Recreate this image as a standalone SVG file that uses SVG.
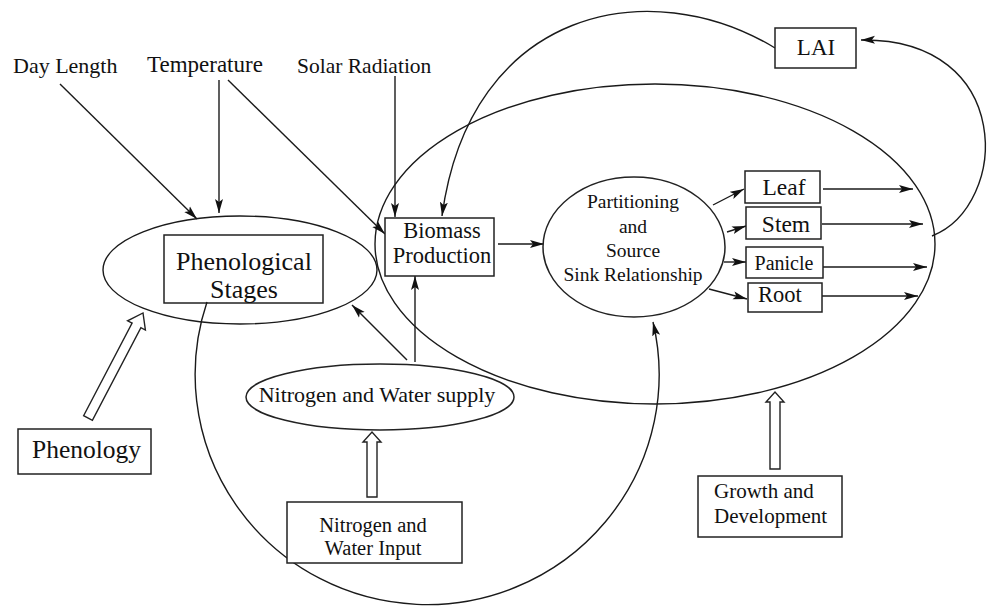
<svg xmlns="http://www.w3.org/2000/svg" width="997" height="613" viewBox="0 0 997 613">
<style>
text{font-family:"Liberation Serif","Times New Roman",serif;fill:#111}
.s{fill:none;stroke:#1a1a1a;stroke-width:1.4}
.b{fill:#fff;stroke:#222;stroke-width:1.5}
.c{fill:none;stroke:#1a1a1a;stroke-width:1.4;marker-end:url(#ah)}
.h{fill:#fff;stroke:#222;stroke-width:1.4}
.m{text-anchor:middle}
</style>
<defs>
<marker id="ah" markerUnits="userSpaceOnUse" markerWidth="15" markerHeight="10" refX="14" refY="5" orient="auto">
<path d="M0,1 L14,5 L0,9 L3,5 z" fill="#111"/>
</marker>
</defs>

<g id="growth-region">
<ellipse class="s" cx="655" cy="244" rx="280" ry="160"/>
</g>

<g id="phenological-stages">
<ellipse class="s" cx="240" cy="270" rx="137" ry="54"/>
<rect class="b" x="164" y="235" width="159" height="68"/>
<text class="m" x="244" y="270" font-size="26">Phenological</text>
<text class="m" x="244" y="298" font-size="26">Stages</text>
</g>

<g id="connectors">
<line class="c" x1="60" y1="84" x2="197" y2="219"/>
<line class="c" x1="219" y1="80" x2="219" y2="213"/>
<line class="c" x1="228" y1="80" x2="385" y2="234"/>
<line class="c" x1="395" y1="76" x2="395" y2="217"/>
<path class="c" d="M775,48 C650,-28 470,8 442,216"/>
<path class="c" d="M932,236 C1010,205 1015,38 861,40"/>
<path class="c" d="M207,302 A232,230 0 1 0 653,322"/>
<line class="c" x1="415" y1="362" x2="415" y2="276"/>
<line class="c" x1="407" y1="360" x2="352" y2="305"/>
<line class="c" x1="498" y1="244" x2="544" y2="244"/>
<line class="c" x1="713" y1="205" x2="744" y2="189"/>
<line class="c" x1="727" y1="232" x2="746" y2="226"/>
<line class="c" x1="724" y1="262" x2="746" y2="262"/>
<line class="c" x1="709" y1="289" x2="747" y2="299"/>
<line class="c" x1="823" y1="189" x2="913" y2="189"/>
<line class="c" x1="822" y1="224" x2="923" y2="224"/>
<line class="c" x1="823" y1="267" x2="927" y2="267"/>
<line class="c" x1="822" y1="296" x2="918" y2="296"/>
<polygon class="h" points="83.6,415.7 132.1,323.1 127.6,320.8 143,313 145.4,330 140.9,327.7 92.4,420.3"/>
<polygon class="h" points="367,497 367,442 363,442 372,432 381,442 377,442 377,497"/>
<polygon class="h" points="770,469 770,402 766,402 775,392 784,402 780,402 780,469"/>
</g>

<g id="day-length"><text x="13" y="73" font-size="22">Day Length</text></g>
<g id="temperature"><text x="147" y="72" font-size="23">Temperature</text></g>
<g id="solar-radiation"><text x="297" y="73" font-size="21.5">Solar Radiation</text></g>

<g id="lai">
<rect class="b" x="775" y="28" width="81" height="40"/>
<text class="m" x="816" y="55" font-size="23">LAI</text>
</g>

<g id="biomass-production">
<rect class="b" x="385" y="218" width="109" height="58"/>
<text class="m" x="442" y="238" font-size="22.5">Biomass</text>
<text class="m" x="442" y="263" font-size="22.5">Production</text>
</g>

<g id="partitioning">
<ellipse class="b" cx="634" cy="247" rx="91" ry="70"/>
<text class="m" x="633" y="208" font-size="19.5">Partitioning</text>
<text class="m" x="633" y="233" font-size="19.5">and</text>
<text class="m" x="633" y="257" font-size="19.5">Source</text>
<text class="m" x="633" y="281" font-size="19.5">Sink Relationship</text>
</g>

<g id="leaf">
<rect class="b" x="745" y="171" width="75" height="32"/>
<text class="m" x="784" y="195" font-size="23.5">Leaf</text>
</g>
<g id="stem">
<rect class="b" x="746" y="207" width="75" height="32"/>
<text class="m" x="786" y="232" font-size="23.5">Stem</text>
</g>
<g id="panicle">
<rect class="b" x="746" y="247" width="77" height="31"/>
<text class="m" x="784" y="270" font-size="20">Panicle</text>
</g>
<g id="root">
<rect class="b" x="748" y="283" width="74" height="29"/>
<text x="758" y="302" font-size="22.5">Root</text>
</g>

<g id="nitrogen-water-supply">
<ellipse class="b" cx="380" cy="397" rx="134" ry="33"/>
<text class="m" x="377" y="402" font-size="22">Nitrogen and Water supply</text>
</g>

<g id="phenology">
<rect class="b" x="18" y="429" width="133" height="45"/>
<text x="32" y="458" font-size="25.5">Phenology</text>
</g>

<g id="nitrogen-water-input">
<rect class="b" x="287" y="502" width="175" height="61"/>
<text class="m" x="373" y="532" font-size="20.5">Nitrogen and</text>
<text class="m" x="373" y="555" font-size="20.5">Water Input</text>
</g>

<g id="growth-development">
<rect class="b" x="698" y="476" width="144" height="61"/>
<text x="714" y="498" font-size="21">Growth and</text>
<text x="714" y="523" font-size="21">Development</text>
</g>
</svg>
